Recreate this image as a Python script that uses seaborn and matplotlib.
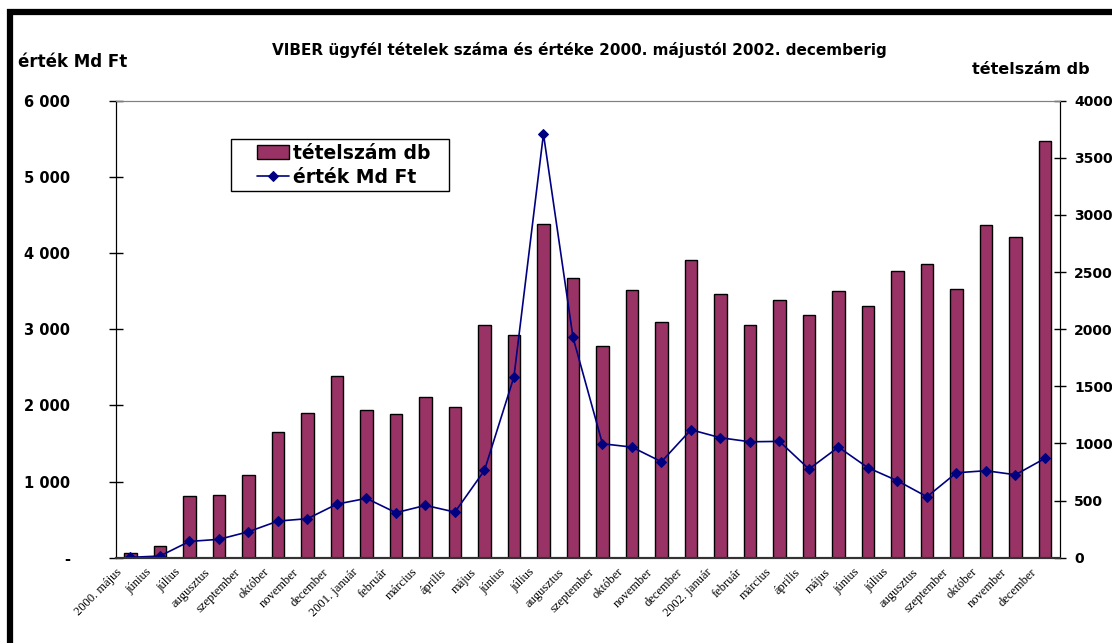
import numpy as np
import matplotlib
matplotlib.use('Agg')
import matplotlib.pyplot as plt
import matplotlib.transforms as mtransforms
from matplotlib.lines import Line2D
from matplotlib.patches import Rectangle
import seaborn as sns

# adatok: 2000. május - 2002. december
honapok = ['2000. május', 'június', 'július', 'augusztus', 'szeptember', 'október',
           'november', 'december',
           '2001. január', 'február', 'március', 'április', 'május', 'június',
           'július', 'augusztus', 'szeptember', 'október', 'november', 'december',
           '2002. január', 'február', 'március', 'április', 'május', 'június',
           'július', 'augusztus', 'szeptember', 'október', 'november', 'december']

# tételszám (db) - oszlopok, jobb tengely
tetelszam = [38, 102, 540, 545, 720, 1097, 1266, 1587,
             1295, 1257, 1406, 1315, 2036, 1945, 2925, 2450, 1852, 2339, 2062, 2610,
             2307, 2036, 2254, 2120, 2330, 2205, 2508, 2575, 2353, 2916, 2808, 3645]

# érték (Md Ft) - vonal, bal tengely
ertek = [5, 22, 214, 241, 341, 481, 512, 704,
         779, 591, 687, 599, 1146, 2375, 5564, 2896, 1496, 1452, 1260, 1680,
         1575, 1522, 1527, 1164, 1452, 1181, 1010, 800, 1115, 1142, 1089, 1304]

bal_ticks = [0, 1000, 2000, 3000, 4000, 5000, 6000]
bal_labels = ['-', '1 000', '2 000', '3 000', '4 000', '5 000', '6 000']
jobb_ticks = [0, 500, 1000, 1500, 2000, 2500, 3000, 3500, 4000]

sns.set_style('white')
plt.rcParams['font.family'] = ['DejaVu Sans']
plt.rcParams['text.color'] = 'black'
plt.rcParams['xtick.color'] = 'black'
plt.rcParams['ytick.color'] = 'black'
plt.rcParams['axes.labelcolor'] = 'black'

W, H = 1112, 643
fig = plt.figure(figsize=(W / 100, H / 100), dpi=100)
ax = fig.add_axes([115.7 / W, 1 - 557.7 / H, 944 / W, 457 / H])

# oszlopok
pos = np.arange(len(honapok))
sns.barplot(x=pos, y=tetelszam, ax=ax, color='#993366', saturation=1,
            edgecolor='black', linewidth=1, width=0.42, label='tételszám db')
ax.set_xlim(-0.5, len(honapok) - 0.5)
ax.set_ylim(0, 4000)
if ax.get_legend() is not None:
    ax.get_legend().remove()

# vonal a második tengelyen
ax2 = ax.twinx()
sns.lineplot(x=pos, y=ertek, ax=ax2, color='#000080', marker='D', markersize=5,
             markeredgecolor='#000080', linewidth=1.2, label='érték Md Ft', legend=False)
ax2.set_ylim(0, 6000)
ax2.set_xlim(-0.5, len(honapok) - 0.5)

# tengelyek felcserélése: tételszám jobbra, érték balra
ax.yaxis.tick_right()
ax.yaxis.set_label_position('right')
ax2.yaxis.tick_left()
ax2.yaxis.set_label_position('left')

ax.set_yticks(jobb_ticks)
ax.set_yticklabels([str(t) for t in jobb_ticks], fontsize=10, fontweight='bold')
ax.tick_params(axis='y', direction='inout', length=9, width=1, pad=6)

ax2.set_yticks(bal_ticks)
ax2.set_yticklabels(bal_labels, fontsize=10.5, fontweight='bold')
ax2.tick_params(axis='y', direction='inout', length=10, width=1, pad=28)
ax2.set_xticks([])

ax.set_xticks(pos)
ax.set_xticklabels(honapok, rotation=45, ha='right', fontsize=9,
                   family=['Liberation Serif', 'DejaVu Serif'])
ax.tick_params(axis='x', which='major', length=0, pad=6)
ax.set_xticks(np.arange(-0.5, len(honapok), 1), minor=True)
ax.tick_params(axis='x', which='minor', direction='inout', length=7, width=1)
offset = mtransforms.ScaledTranslation(-6 / 100, 0, fig.dpi_scale_trans)
for lbl in ax.get_xticklabels():
    lbl.set_transform(lbl.get_transform() + offset)

ax.set_xlabel('')
ax.set_ylabel('')
ax2.set_ylabel('')

for a in (ax, ax2):
    a.spines['top'].set_color('#808080')
    a.spines['left'].set_color('black')
    a.spines['right'].set_color('black')
    a.spines['bottom'].set_color('#333333')
    a.spines['bottom'].set_linewidth(1.5)
    a.grid(False)

# jelmagyarázat (keret külön téglalapként)
h1, l1 = ax.get_legend_handles_labels()
h2, l2 = ax2.get_legend_handles_labels()
keret = Rectangle((230.7 / W, 1 - 190.7 / H), 218.3 / W, 51.4 / H,
                  transform=fig.transFigure, facecolor='white', edgecolor='black',
                  linewidth=1, zorder=4.9)
ax2.add_patch(keret)
leg = ax2.legend(h1 + h2, l1 + l2, loc='upper left',
                 bbox_to_anchor=(257 / W, 1 - 143.5 / H),
                 bbox_transform=fig.transFigure,
                 borderaxespad=0, borderpad=0, frameon=False,
                 prop={'size': 13.5, 'weight': 'bold'}, handlelength=1.7,
                 handleheight=0.85, handletextpad=0.2, labelspacing=0.3)
leg.set_zorder(5)

# feliratok
fig.text(579 / W, 1 - 50 / H,
         'VIBER ügyfél tételek száma és értéke 2000. májustól 2002. decemberig',
         ha='center', va='center', fontsize=11, fontweight='bold')
fig.text(18 / W, 1 - 62 / H, 'érték Md Ft', ha='left', va='center',
         fontsize=12, fontweight='bold')
fig.text(972 / W, 1 - 70 / H, 'tételszám db', ha='left', va='center',
         fontsize=11.5, fontweight='bold')

# fekete keret
fig.add_artist(Line2D([7 / W, 1], [1 - 11.5 / H, 1 - 11.5 / H], color='black',
                      linewidth=4.5, solid_capstyle='butt', transform=fig.transFigure))
fig.add_artist(Line2D([10.3 / W, 10.3 / W], [0, 1 - 9 / H], color='black',
                      linewidth=4.5, solid_capstyle='butt', transform=fig.transFigure))

fig.savefig('out.png', dpi=100)
